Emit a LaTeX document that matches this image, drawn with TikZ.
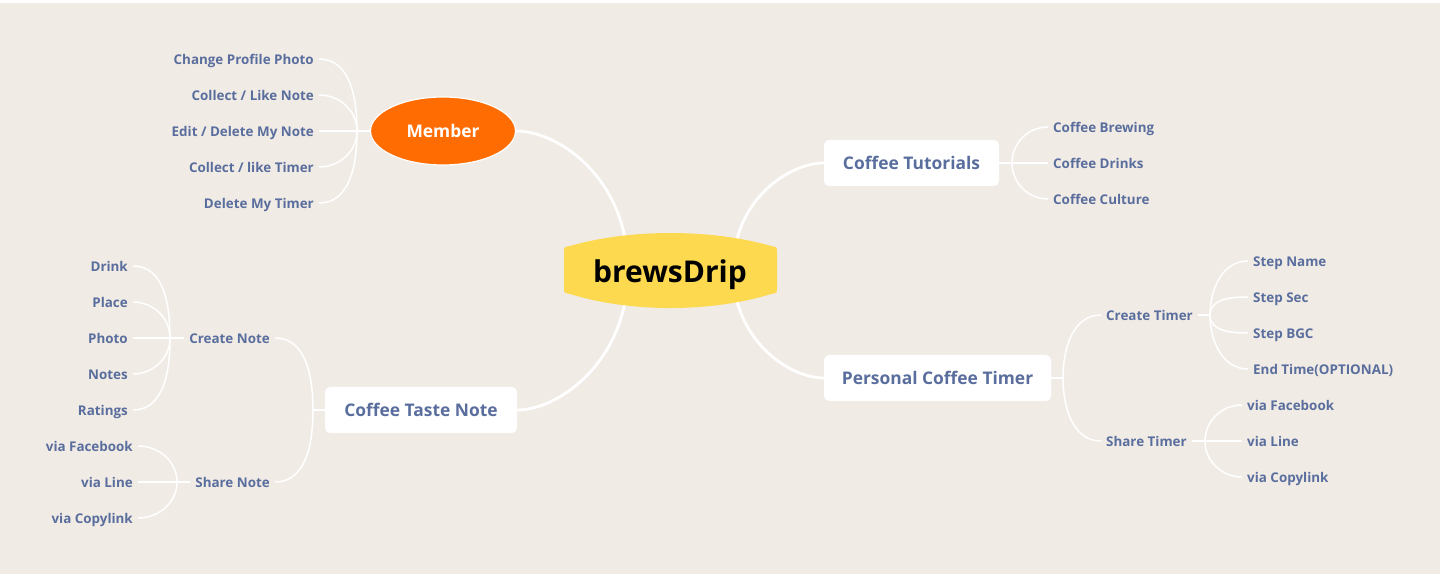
\documentclass[tikz,border=0pt]{standalone}
\usepackage{fontspec}
\setmainfont{Open Sans}
\usetikzlibrary{shapes.geometric}
\definecolor{bgbeige}{HTML}{F0EBE5}
\definecolor{txtblue}{HTML}{5A6E9E}
\definecolor{memorange}{HTML}{FF6D02}
\definecolor{bdyellow}{HTML}{FDD94F}
\pgfdeclarelayer{back}
\pgfdeclarelayer{lines}
\pgfsetlayers{back,lines,main}
\tikzset{
  leafbase/.style={inner xsep=5pt, inner ysep=0pt, text height=10.2pt, text depth=0pt,
    font=\fontsize{13.4}{14}\selectfont\bfseries, text=txtblue},
  leafL/.style={leafbase, anchor=east},
  leafR/.style={leafbase, anchor=west},
  boxnode/.style={fill=white, rounded corners=5pt, minimum height=46pt, inner xsep=0pt,
    text height=12.4pt, text depth=0pt, font=\fontsize{17.4}{18}\selectfont\bfseries, text=txtblue},
  thinline/.style={draw=white, line width=1.5pt},
  thickline/.style={draw=white, line width=2.8pt},
}
\begin{document}
\begin{tikzpicture}[x=1pt,y=1pt]
\useasboundingbox (0,0) rectangle (1440,578);
\begin{pgfonlayer}{back}
\fill[white] (0,0) rectangle (1440,578);
\fill[bgbeige] (0,4) rectangle (1440,575);
\end{pgfonlayer}

% central shape
\fill[bdyellow] (564,290) -- (564,326) .. controls (564,331) .. (570,332)
  .. controls (630,349.3) and (711,349.3) .. (771,332)
  .. controls (777,331) .. (777,326) -- (777,290)
  .. controls (777,285) .. (771,284)
  .. controls (711,265.3) and (630,265.3) .. (570,284)
  .. controls (564,285) .. (564,290) -- cycle;
\node[anchor=base, font=\fontsize{30}{32}\selectfont\bfseries, text=black] (bd) at (670,295) {brewsDrip};
\coordinate (bdw) at (628,308);
\coordinate (bde) at (733,308);

% main nodes
\node[ellipse, fill=memorange, draw=white, line width=1.2pt, minimum width=145pt, minimum height=68pt,
  font=\fontsize{17.4}{18}\selectfont\bfseries, text=white] (member) at (443,447) {Member};
\node[boxnode, minimum width=175pt] (ct) at (911.5,415) {Coffee Tutorials};
\node[boxnode, minimum width=227pt] (pct) at (937.5,200) {Personal Coffee Timer};
\node[boxnode, minimum width=192pt] (ctn) at (421,168) {Coffee Taste Note};

% member leaves
\coordinate (jm) at (357,447);
\node[leafL] (m1) at (319,519) {Change Profile Photo};
\node[leafL] (m2) at (319,483) {Collect / Like Note};
\node[leafL] (m3) at (319,447) {Edit / Delete My Note};
\node[leafL] (m4) at (319,411) {Collect / like Timer};
\node[leafL] (m5) at (319,375) {Delete My Timer};

% tutorials leaves
\coordinate (jct) at (1012,415);
\node[leafR] (t1) at (1048,451) {Coffee Brewing};
\node[leafR] (t2) at (1048,415) {Coffee Drinks};
\node[leafR] (t3) at (1048,379) {Coffee Culture};

% personal timer
\coordinate (jpt) at (1063,200);
\node[leafR] (ctm) at (1101,263) {Create Timer};
\node[leafR] (stm) at (1101,137) {Share Timer};
\coordinate (jctm) at (1210,263);
\node[leafR] (c1) at (1248,317) {Step Name};
\node[leafR] (c2) at (1248,281) {Step Sec};
\node[leafR] (c3) at (1248,245) {Step BGC};
\node[leafR] (c4) at (1248,209) {End Time(OPTIONAL)};
\coordinate (jstm) at (1205,137);
\node[leafR] (s1) at (1242,173) {via Facebook};
\node[leafR] (s2) at (1242,137) {via Line};
\node[leafR] (s3) at (1242,101) {via Copylink};

% taste note
\coordinate (jtn) at (313,168);
\node[leafL] (cn) at (275,240) {Create Note};
\node[leafL] (sn) at (275,96) {Share Note};
\coordinate (jcn) at (170,240);
\node[leafL] (n1) at (133,312) {Drink};
\node[leafL] (n2) at (133,276) {Place};
\node[leafL] (n3) at (133,240) {Photo};
\node[leafL] (n4) at (133,204) {Notes};
\node[leafL] (n5) at (133,168) {Ratings};
\coordinate (jsn) at (177,96);
\node[leafL] (v1) at (138,132) {via Facebook};
\node[leafL] (v2) at (138,96) {via Line};
\node[leafL] (v3) at (138,60) {via Copylink};

\begin{pgfonlayer}{lines}
% main connectors
\draw[thickline] (bdw) .. controls (628,399) and (559,447) .. (member.east);
\draw[thickline] (bde) .. controls (733,378) and (789,415) .. (ct.west);
\draw[thickline] (bde) .. controls (733,238) and (789,200) .. (pct.west);
\draw[thickline] (bdw) .. controls (628,217) and (559,168) .. (ctn.east);

% member
\draw[thinline] (member.west) -- (jm);
\draw[thinline] (jm) to[out=90,in=0] (m1.east);
\draw[thinline] (jm) to[out=90,in=0] (m2.east);
\draw[thinline] (jm) -- (m3.east);
\draw[thinline] (jm) to[out=-90,in=0] (m4.east);
\draw[thinline] (jm) to[out=-90,in=0] (m5.east);

% tutorials
\draw[thinline] (ct.east) -- (jct);
\draw[thinline] (jct) to[out=90,in=180] (t1.west);
\draw[thinline] (jct) -- (t2.west);
\draw[thinline] (jct) to[out=-90,in=180] (t3.west);

% personal timer
\draw[thinline] (pct.east) -- (jpt);
\draw[thinline] (jpt) to[out=90,in=180] (ctm.west);
\draw[thinline] (jpt) to[out=-90,in=180] (stm.west);
\draw[thinline] (ctm.east) -- (jctm);
\draw[thinline] (jctm) to[out=90,in=180] (c1.west);
\draw[thinline] (jctm) to[out=90,in=180] (c2.west);
\draw[thinline] (jctm) to[out=-90,in=180] (c3.west);
\draw[thinline] (jctm) to[out=-90,in=180] (c4.west);
\draw[thinline] (stm.east) -- (jstm);
\draw[thinline] (jstm) to[out=90,in=180] (s1.west);
\draw[thinline] (jstm) -- (s2.west);
\draw[thinline] (jstm) to[out=-90,in=180] (s3.west);

% taste note
\draw[thinline] (ctn.west) -- (jtn);
\draw[thinline] (jtn) to[out=90,in=0] (cn.east);
\draw[thinline] (jtn) to[out=-90,in=0] (sn.east);
\draw[thinline] (cn.west) -- (jcn);
\draw[thinline] (jcn) to[out=90,in=0] (n1.east);
\draw[thinline] (jcn) to[out=90,in=0] (n2.east);
\draw[thinline] (jcn) -- (n3.east);
\draw[thinline] (jcn) to[out=-90,in=0] (n4.east);
\draw[thinline] (jcn) to[out=-90,in=0] (n5.east);
\draw[thinline] (sn.west) -- (jsn);
\draw[thinline] (jsn) to[out=90,in=0] (v1.east);
\draw[thinline] (jsn) -- (v2.east);
\draw[thinline] (jsn) to[out=-90,in=0] (v3.east);
\end{pgfonlayer}
\end{tikzpicture}
\end{document}
